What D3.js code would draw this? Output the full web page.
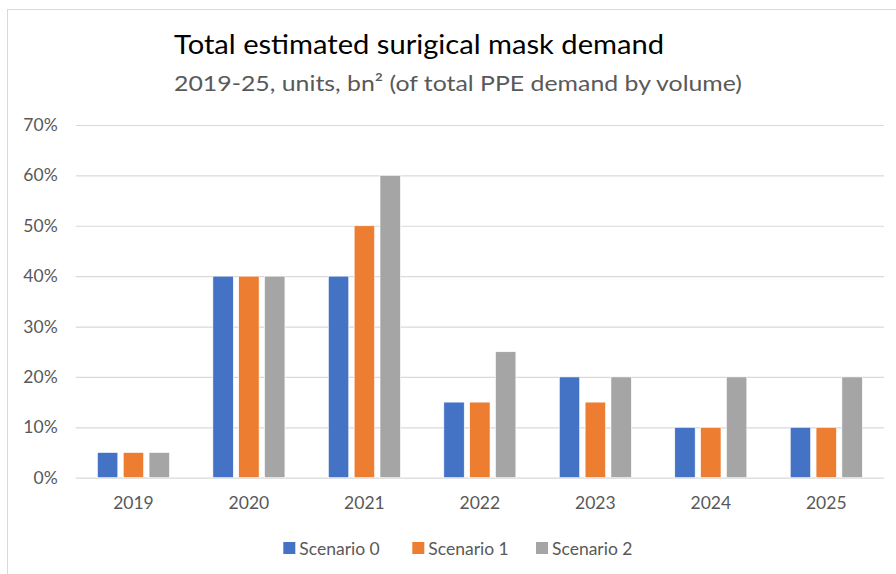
<!DOCTYPE html>
<html>
<head>
<meta charset="utf-8">
<script src="https://cdn.jsdelivr.net/npm/d3@7/dist/d3.min.js"></script>
<style>
  html, body { margin: 0; padding: 0; background: #fff; }
  svg { display: block; font-family: Lato, "Open Sans", sans-serif; }
</style>
</head>
<body>
<svg id="chart" width="896" height="574"></svg>
<script>
// Chart data
const years = ["2019", "2020", "2021", "2022", "2023", "2024", "2025"];
const seriesNames = ["Scenario 0", "Scenario 1", "Scenario 2"];
const scenario0 = [5, 40, 40, 15, 20, 10, 10];
const scenario1 = [5, 40, 50, 15, 15, 10, 10];
const scenario2 = [5, 40, 60, 25, 20, 20, 20];
const yTicks = [0, 10, 20, 30, 40, 50, 60, 70];
const titleText = "Total estimated surigical mask demand";
const subtitleText = "2019-25, units, bn² (of total PPE demand by volume)";

const colors = ["#4472C4", "#ED7D31", "#A5A5A5"];
const seriesValues = [scenario0, scenario1, scenario2];

const svg = d3.select("#chart");

// Chart area frame
svg.append("rect")
  .attr("x", 7.5).attr("y", 9.5)
  .attr("width", 900).attr("height", 600)
  .attr("fill", "#fff")
  .attr("stroke", "#d9d9d9").attr("stroke-width", 1);

// Titles
svg.append("text")
  .attr("x", 174).attr("y", 54)
  .attr("font-size", 26.5).attr("fill", "#000")
  .attr("textLength", 490).attr("lengthAdjust", "spacingAndGlyphs")
  .text(titleText);
svg.append("text")
  .attr("x", 174).attr("y", 91)
  .attr("font-size", 21.5).attr("fill", "#595959")
  .attr("textLength", 568).attr("lengthAdjust", "spacingAndGlyphs")
  .text(subtitleText);

// Scales
const plot = { left: 75.7, right: 884, top: 125, bottom: 477.7 };
const x0 = d3.scaleBand()
  .domain(years)
  .range([plot.left, plot.right])
  .paddingInner(0.376)
  .paddingOuter(0.188);
const x1 = d3.scaleBand()
  .domain(seriesNames)
  .range([0, x0.bandwidth()])
  .paddingInner(0.21);
const y = d3.scaleLinear()
  .domain([0, 70])
  .range([plot.bottom, plot.top]);

// Gridlines and y tick labels
const yAxis = d3.axisLeft(y)
  .tickValues(yTicks)
  .tickSize(-(plot.right - plot.left))
  .tickPadding(18)
  .tickFormat(d => d + "%");
const gy = svg.append("g")
  .attr("transform", `translate(${plot.left},0)`)
  .call(yAxis);
gy.select(".domain").remove();
gy.selectAll(".tick line").attr("stroke", "#d9d9d9").attr("stroke-width", 1.2);
gy.selectAll(".tick text")
  .attr("fill", "#595959")
  .attr("font-size", 17.5)
  .attr("font-family", "Lato, sans-serif");

// Bars
const groups = svg.append("g").selectAll("g")
  .data(years)
  .join("g")
  .attr("transform", d => `translate(${x0(d)},0)`);
groups.selectAll("rect")
  .data((d, i) => seriesNames.map((s, k) => ({ s, k, v: seriesValues[k][i] })))
  .join("rect")
  .attr("x", d => x1(d.s))
  .attr("width", x1.bandwidth())
  .attr("y", d => y(d.v))
  .attr("height", d => y(0) - y(d.v))
  .attr("fill", d => colors[d.k])
  .attr("stroke", "#fff")
  .attr("stroke-width", 0.6);

// Category axis labels
const xAxis = d3.axisBottom(x0).tickSize(0).tickPadding(19);
const gx = svg.append("g")
  .attr("transform", `translate(0,${plot.bottom})`)
  .call(xAxis);
gx.select(".domain").remove();
gx.selectAll(".tick text")
  .attr("fill", "#595959")
  .attr("font-size", 17.5)
  .attr("font-family", "Lato, sans-serif");

// Legend
const legendX = [283.3, 412.3, 536];
const legend = svg.append("g").selectAll("g")
  .data(seriesNames)
  .join("g")
  .attr("transform", (d, i) => `translate(${legendX[i]},542)`);
legend.append("rect")
  .attr("width", 12).attr("height", 12)
  .attr("fill", (d, i) => colors[i]);
legend.append("text")
  .attr("x", 16).attr("y", 12.5)
  .attr("font-size", 17.5)
  .attr("fill", "#595959")
  .text(d => d);
</script>
</body>
</html>
